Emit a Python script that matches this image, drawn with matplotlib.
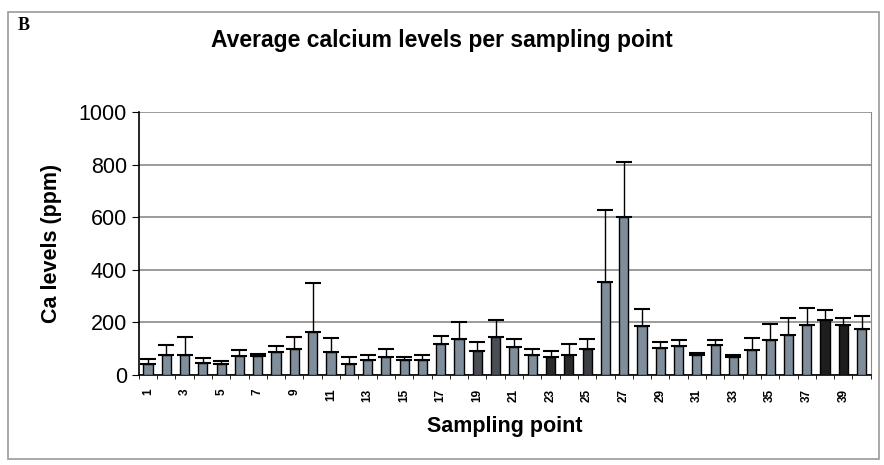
import numpy as np
import matplotlib.pyplot as plt
from matplotlib.patches import Rectangle

# Mean Ca level and upper error bar for each sampling point (ppm)
points = np.arange(1, 41)
ca_mean = [41, 74, 76, 43, 41, 70, 70, 87, 100, 161,
           87, 41, 57, 68, 56, 56, 119, 135, 90, 144,
           106, 75, 69, 75, 100, 352, 601, 187, 101, 110,
           74, 112, 66, 95, 133, 150, 188, 208, 188, 174]
ca_err = [20, 38, 69, 21, 13, 24, 8, 23, 43, 187,
          53, 25, 17, 32, 13, 21, 29, 65, 36, 64,
          29, 25, 20, 44, 35, 274, 209, 63, 22, 21,
          8, 19, 10, 45, 61, 66, 66, 37, 28, 51]

# darker (photocopied) bars
dark = {19: '#4a4f55', 20: '#4a4f55', 23: '#2a2a2a', 24: '#2a2a2a',
        25: '#3c3f44', 38: '#1e1e1e', 39: '#1e1e1e'}
colors = [dark.get(p, '#7f8e9a') for p in points]

plt.rcParams['font.family'] = ['Liberation Sans', 'DejaVu Sans']

fig = plt.figure(figsize=(8.84, 4.65), dpi=100)
ax = fig.add_axes([0.157, 0.194, 0.828, 0.565])

ax.bar(points, ca_mean, width=0.5, color=colors, edgecolor='black',
       linewidth=1.0, zorder=3)
ax.errorbar(points, ca_mean, yerr=[np.zeros(len(points)), ca_err],
            fmt='none', ecolor='black', elinewidth=1.0, capsize=6,
            capthick=1.5, zorder=4)

ax.set_xlim(0.5, 40.5)
ax.set_ylim(0, 1000)
ax.set_yticks(range(0, 1001, 200))
ax.tick_params(axis='y', labelsize=15.5, length=5, direction='out')
ax.yaxis.grid(True, color='#8a8a8a', linewidth=1.2, zorder=0)

ax.set_xticks(points[::2])
ax.set_xticklabels([str(p) for p in points[::2]], rotation=90,
                   fontsize=8.5, fontweight='bold')
ax.tick_params(axis='x', length=0, pad=10)
ax.set_xticks(np.arange(0.5, 41, 1), minor=True)
ax.tick_params(axis='x', which='minor', length=3, direction='out')

for s in ['top']:
    ax.spines[s].set_visible(False)
ax.spines['right'].set_color('#8a8a8a')
ax.spines['left'].set_linewidth(1.2)
ax.spines['bottom'].set_linewidth(1.2)

ax.set_ylabel('Ca levels (ppm)', fontsize=15.5, fontweight='bold', labelpad=12)
ax.set_xlabel('Sampling point', fontsize=15.5, fontweight='bold', labelpad=10)

fig.text(0.50, 0.912, 'Average calcium levels per sampling point',
         ha='center', va='center', fontsize=16.5, fontweight='bold')
fig.text(0.02, 0.945, 'B', ha='left', va='center', fontsize=13,
         fontweight='bold', family='Liberation Serif')

# outer frame
fig.patches.append(Rectangle((0.009, 0.012), 0.985, 0.963, transform=fig.transFigure,
                             fill=False, edgecolor='#9a9a9a', linewidth=1.2))

fig.savefig('out.png', dpi=100)
